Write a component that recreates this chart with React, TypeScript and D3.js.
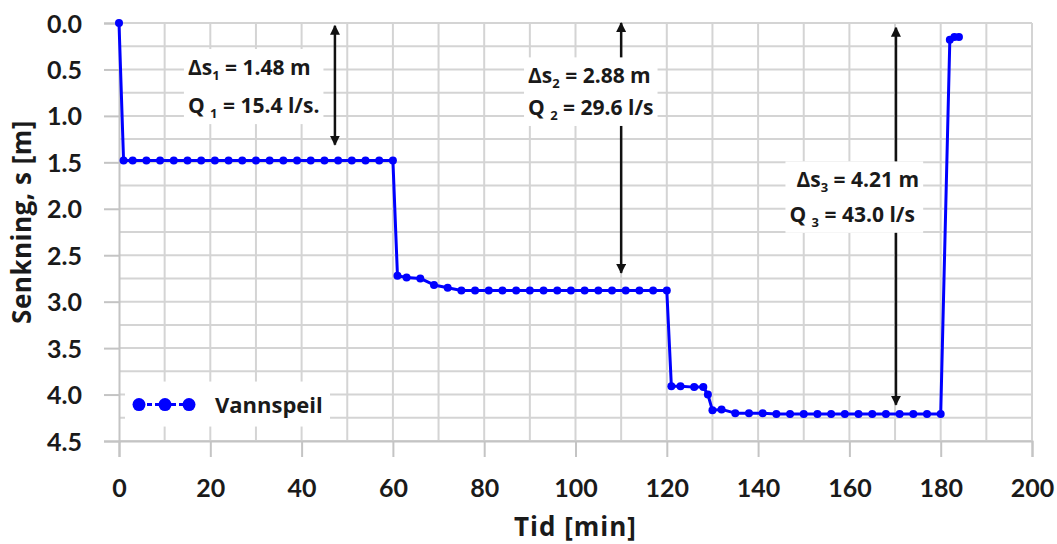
import React, { useRef, useEffect } from 'react';
import * as d3 from 'd3';

// Vannspeil (drawdown) readings, time in minutes
const timeMin = [
  0, 1, 3, 6, 9, 12, 15, 18, 21, 24, 27, 30, 33, 36, 39, 42, 45, 48, 51, 54, 57, 60,
  61, 63, 66, 69, 72, 75, 78, 81, 84, 87, 90, 93, 96, 99, 102, 105, 108, 111, 114, 117, 120,
  121, 123, 126, 128, 129, 130, 132, 135, 138, 141, 144, 147, 150, 153, 156, 159, 162, 165, 168, 171, 174, 177, 180,
  182, 183, 184,
];
const drawdown = [
  0, 1.48, 1.48, 1.48, 1.48, 1.48, 1.48, 1.48, 1.48, 1.48, 1.48, 1.48, 1.48, 1.48, 1.48, 1.48, 1.48, 1.48, 1.48, 1.48, 1.48, 1.48,
  2.72, 2.74, 2.75, 2.82, 2.85, 2.88, 2.88, 2.88, 2.88, 2.88, 2.88, 2.88, 2.88, 2.88, 2.88, 2.88, 2.88, 2.88, 2.88, 2.88, 2.88,
  3.91, 3.91, 3.92, 3.92, 4.0, 4.17, 4.16, 4.2, 4.2, 4.2, 4.21, 4.21, 4.21, 4.21, 4.21, 4.21, 4.21, 4.21, 4.21, 4.21, 4.21, 4.21, 4.21,
  0.18, 0.15, 0.15,
];

const xTicks = [0, 20, 40, 60, 80, 100, 120, 140, 160, 180, 200];
const yTicks = [0, 0.5, 1, 1.5, 2, 2.5, 3, 3.5, 4, 4.5];
const seriesName = 'Vannspeil';

// step annotations: arrow position and label lines
const stepNo = ['1', '2', '3'];
const stepDs = ['1.48 m', '2.88 m', '4.21 m'];
const stepQ = ['15.4 l/s.', '29.6 l/s', '43.0 l/s'];
const arrowT = [47.3, 110, 170.2];
const arrowTop = [0.03, 0.0, 0.05];
const arrowBottom = [1.31, 2.69, 4.11];
const labelT = [15.1, 89.6, 148.4];
const labelDsS = [0.56, 0.65, 1.77];
const labelQS = [0.97, 0.99, 2.14];

const W = 1057;
const H = 544;
const FONT = 'Lato, "Open Sans", sans-serif';
const FONT_WIDE = '"Open Sans", Lato, sans-serif';

const App = () => {
  const svgRef = useRef(null);

  useEffect(() => {
    const svg = d3.select(svgRef.current);
    svg.selectAll('*').remove();

    const left = 119;
    const right = 1032;
    const top = 23;
    const bottom = 441;

    const x = d3.scaleLinear().domain([0, 200]).range([left, right]);
    const y = d3.scaleLinear().domain([0, 4.5]).range([top, bottom]);

    const defs = svg.append('defs');
    ['start', 'end'].forEach((k) => {
      defs
        .append('marker')
        .attr('id', 'arr-' + k)
        .attr('viewBox', '0 0 10 10')
        .attr('refX', 9)
        .attr('refY', 5)
        .attr('markerWidth', 4)
        .attr('markerHeight', 4)
        .attr('markerUnits', 'strokeWidth')
        .attr('orient', k === 'end' ? 'auto' : 'auto-start-reverse')
        .append('path')
        .attr('d', 'M0,0 L10,5 L0,10 Z')
        .style('fill', '#111');
    });

    // grid
    const grid = svg.append('g');
    grid
      .selectAll('line.h')
      .data(d3.range(0, 4.51, 0.25))
      .join('line')
      .attr('x1', left)
      .attr('x2', right)
      .attr('y1', (d) => y(d))
      .attr('y2', (d) => y(d))
      .style('stroke', '#d4d4d4')
      .style('stroke-width', 2);
    grid
      .selectAll('line.v')
      .data(d3.range(10, 201, 10))
      .join('line')
      .attr('x1', (d) => x(d))
      .attr('x2', (d) => x(d))
      .attr('y1', top)
      .attr('y2', bottom)
      .style('stroke', '#d4d4d4')
      .style('stroke-width', 2);

    // axes
    const xAxis = svg
      .append('g')
      .attr('transform', `translate(0,${bottom})`)
      .call(d3.axisBottom(x).tickValues(xTicks).tickSize(16).tickPadding(22).tickFormat(d3.format('d')));
    const yAxis = svg
      .append('g')
      .attr('transform', `translate(${left},0)`)
      .call(d3.axisLeft(y).tickValues(yTicks).tickSize(15).tickPadding(22).tickFormat(d3.format('.1f')));
    [xAxis, yAxis].forEach((a) => {
      a.select('.domain').style('stroke', '#c4c4c4').style('stroke-width', 2);
      a.selectAll('.tick line').style('stroke', '#c4c4c4').style('stroke-width', 2);
      a.selectAll('.tick text')
        .style('font-family', FONT)
        .style('font-size', '25px')
        .style('font-weight', 'bold')
        .style('fill', '#1a1a1a');
    });
    yAxis.selectAll('.tick text').attr('dy', '0.36em');
    xAxis.selectAll('.tick text').attr('dy', '0.71em');

    // axis titles
    svg
      .append('text')
      .text('Tid [min]')
      .attr('x', (left + right) / 2)
      .attr('y', 536)
      .attr('text-anchor', 'middle')
      .style('font-family', FONT_WIDE)
      .style('font-size', '26px')
      .style('letter-spacing', '1px')
      .style('font-weight', 'bold')
      .style('fill', '#1a1a1a');
    svg
      .append('text')
      .text('Senkning, s [m]')
      .attr('transform', 'translate(31,222) rotate(-90)')
      .attr('text-anchor', 'middle')
      .style('font-family', FONT_WIDE)
      .style('font-size', '26px')
      .style('letter-spacing', '0.5px')
      .style('font-weight', 'bold')
      .style('fill', '#1a1a1a');

    // annotations
    stepNo.forEach((n, i) => {
      svg
        .append('line')
        .attr('x1', x(arrowT[i]))
        .attr('x2', x(arrowT[i]))
        .attr('y1', y(arrowTop[i]))
        .attr('y2', y(arrowBottom[i]))
        .attr('marker-start', 'url(#arr-start)')
        .attr('marker-end', 'url(#arr-end)')
        .style('stroke', '#111')
        .style('stroke-width', 2.5);

      const g = svg.append('g');
      const box = g.append('rect').style('fill', 'white');
      const t1 = g
        .append('text')
        .attr('x', x(labelT[i]))
        .attr('y', y(labelDsS[i]))
        .style('font-family', FONT_WIDE)
        .style('font-size', '21px')
        .style('font-weight', 'bold')
        .style('fill', '#1a1a1a');
      t1.append('tspan').text('Δs');
      t1.append('tspan').text(n).attr('dy', 5).style('font-size', '13px');
      t1.append('tspan').text(' = ' + stepDs[i]).attr('dy', -5);
      const t2 = g
        .append('text')
        .attr('x', x(labelT[i]) - (i === 2 ? 7 : 0))
        .attr('y', y(labelQS[i]))
        .style('font-family', FONT_WIDE)
        .style('font-size', '21px')
        .style('font-weight', 'bold')
        .style('fill', '#1a1a1a');
      t2.append('tspan').text('Q ');
      t2.append('tspan').text(n).attr('dy', 5).style('font-size', '13px');
      t2.append('tspan').text(' = ' + stepQ[i]).attr('dy', -5);
      const bb = g.node().getBBox();
      box
        .attr('x', bb.x - 4)
        .attr('y', bb.y - 4)
        .attr('width', bb.width + 8)
        .attr('height', bb.height + 6);
    });

    // series
    const pts = timeMin.map((t, i) => [t, drawdown[i]]);
    svg
      .append('path')
      .datum(pts)
      .attr('d', d3.line().x((d) => x(d[0])).y((d) => y(d[1])))
      .style('fill', 'none')
      .style('stroke', '#0000ff')
      .style('stroke-width', 3)
      .style('stroke-linejoin', 'round');
    svg
      .append('g')
      .selectAll('circle')
      .data(pts)
      .join('circle')
      .attr('cx', (d) => x(d[0]))
      .attr('cy', (d) => y(d[1]))
      .attr('r', 4)
      .style('fill', '#0000ff');

    // legend
    const lg = svg.append('g').attr('transform', `translate(${left + 6},${y(4.0) - 13})`);
    lg.append('rect').attr('width', 205).attr('height', 45).style('fill', 'white');
    lg.append('line')
      .attr('x1', 14)
      .attr('x2', 64)
      .attr('y1', 23)
      .attr('y2', 23)
      .style('stroke', '#0000ff')
      .style('stroke-width', 3)
      .style('stroke-dasharray', '5,3');
    lg.selectAll('circle')
      .data([14, 40, 64])
      .join('circle')
      .attr('cx', (d) => d)
      .attr('cy', 23)
      .attr('r', 6.5)
      .style('fill', '#0000ff');
    lg.append('text')
      .text(seriesName)
      .attr('x', 90)
      .attr('y', 31)
      .style('font-family', FONT_WIDE)
      .style('font-size', '22px')
      .style('font-weight', 'bold')
      .style('fill', '#1a1a1a');
  }, []);

  return (
    <div style={{ position: 'absolute', left: 0, top: 0 }}>
      <svg ref={svgRef} width={W} height={H} style={{ display: 'block', background: 'white' }}></svg>
    </div>
  );
};

export default App;
